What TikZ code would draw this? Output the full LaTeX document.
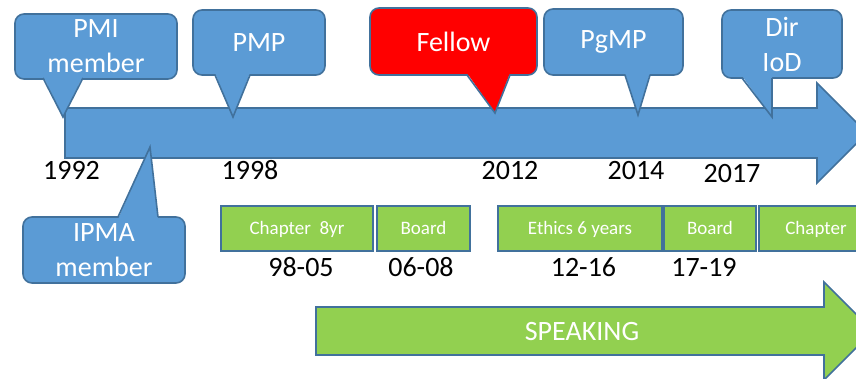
\documentclass[tikz,border=0pt]{standalone}
\usepackage{fontspec}
\setmainfont{Carlito}
\usetikzlibrary{calc}
\definecolor{officeblue}{HTML}{5B9BD5}
\definecolor{edgeblue}{HTML}{41719C}
\definecolor{leafgreen}{HTML}{92D050}
% tail of a speech bubble: colour, base ends, tip, overlap into the box
\newcommand{\calltail}[5]{%
	\fill[#1] ($(#2)+(0,#5)$) -- (#4) -- ($(#3)+(0,#5)$) -- cycle;
	\draw[tail] (#2) -- (#4) -- (#3);}

\begin{document}
\begin{tikzpicture}[x=1pt, y=-1pt,
	bubble/.style={draw=edgeblue, line width=1.6pt, fill=officeblue, rounded corners=9pt, text=white,
		font=\fontsize{28}{35}\selectfont, align=center, inner sep=0pt},
	tail/.style={draw=edgeblue, line width=1.6pt},
	bar/.style={draw=edgeblue, line width=1.6pt, fill=officeblue},
	term/.style={draw=edgeblue, line width=1.6pt, fill=leafgreen, text=white,
		font=\fontsize{19}{22}\selectfont, inner sep=0pt, minimum height=45pt,
		text height=12pt, text depth=0pt},
	year/.style={font=\fontsize{28}{34}\selectfont, text=black, inner sep=0pt}]
\clip (0,0) rectangle (856,378);
% {{{ time line
\draw[bar] (65,108) -- (817,108) -- (817,83) -- (867,133) -- (817,183) -- (817,158) -- (65,158) -- cycle;
\node[year] (y1992) at (71.5,170) {1992};
\node[year] (y1998) at (250,170) {1998};
\node[year] (y2012) at (510,171) {2012};
\node[year] (y2014) at (636,171) {2014};
\node[year] (y2017) at (732,173.5) {2017};
% }}}
% {{{ bubbles
\node[bubble, minimum width=162pt, minimum height=65pt] (pmi) at (96,46.5) {PMI\\member};
\calltail{officeblue}{43,78}{83,78}{63,117}{-2}
\node[bubble, minimum width=132pt, minimum height=65pt] (pmp) at (259,42.5) {PMP};
\calltail{officeblue}{215,75}{250,75}{233,117}{-2}
\node[bubble, fill=red, minimum width=167pt, minimum height=67pt] (fellow) at (453.5,41.5) {Fellow};
\calltail{red}{467,75}{510,75}{495,113}{-2}
\node[bubble, minimum width=139pt, minimum height=66pt] (pgmp) at (613.5,42) {PgMP};
\calltail{officeblue}{625,75}{650,75}{638,115}{-2}
\node[bubble, minimum width=120pt, minimum height=68pt] (iod) at (782,44) {Dir\\IoD};
\calltail{officeblue}{742,78}{772,78}{772,117}{-2}
\node[bubble, minimum width=162pt, minimum height=66pt] (ipma) at (104,250) {IPMA\\member};
\calltail{officeblue}{118,217}{158,217}{150,147}{2}
% }}}
% {{{ terms
\node[term, minimum width=152pt] (chap1) at (297,228.5) {Chapter~~8yr};
\node[term, minimum width=93pt] (board1) at (423.5,228.5) {Board};
\node[term, minimum width=164pt] (ethics) at (580,228.5) {Ethics 6 years};
\node[term, minimum width=92pt] (board2) at (710,228.5) {Board};
\node[term, minimum width=114pt] (chap2) at (816,228.5) {Chapter};
\node[year] (p1) at (301,267) {98-05};
\node[year] (p2) at (421,267) {06-08};
\node[year] (p3) at (583.5,267) {12-16};
\node[year] (p4) at (704,267) {17-19};
% }}}
% {{{ speaking
\draw[bar, fill=leafgreen] (316,307) -- (824,307) -- (824,282) -- (873,331) -- (824,380) -- (824,355) -- (316,355) -- cycle;
\node[year, text=white] (speak) at (582,332) {SPEAKING};
% }}}
\end{tikzpicture}
\end{document}
